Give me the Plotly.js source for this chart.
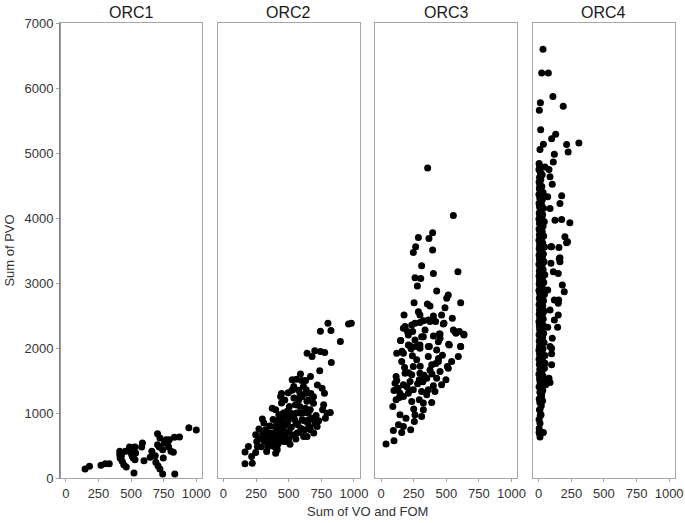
<!DOCTYPE html>
<html>
<head>
<meta charset="utf-8">
<script src="https://cdn.plot.ly/plotly-3.0.1.min.js"></script>
<style>html,body{margin:0;padding:0;background:#fff;}#chart{width:685px;height:523px;}</style>
</head>
<body>
<div id="chart"></div>
<script>
// Panel names
const panels = ["ORC1", "ORC2", "ORC3", "ORC4"];
const xTicks = [0, 250, 500, 750, 1000];
const yTicks = [0, 1000, 2000, 3000, 4000, 5000, 6000, 7000];

// ORC1
const orc1x = [147,181,269,302,333,413,416,413,426,432,444,463,457,488,496,509,522,530,517,504,522,535,530,587,581,599,646,659,685,690,706,721,703,703,716,721,742,747,742,755,768,780,788,793,806,824,832,871,835,943,1000];
const orc1y = [138,179,195,220,220,359,308,410,344,256,205,169,410,477,395,333,472,477,308,374,77,385,282,538,477,267,318,410,344,241,190,138,682,513,477,615,436,308,62,538,590,538,477,590,410,395,626,631,62,774,740];

// ORC2
const orc2x = [165,221,165,191,216,247,260,247,272,298,310,323,331,336,349,361,374,387,394,412,425,430,438,445,450,463,471,481,491,496,501,511,527,539,552,557,565,578,588,593,603,613,623,628,634,641,654,667,641,679,700,667,692,705,718,738,743,756,774,768,781,794,819,743,776,801,824,827,896,959,980,
  280,300,315,340,355,370,380,395,405,415,420,440,455,460,475,485,500,505,515,520,530,540,545,560,570,575,585,595,600,610,620,630,640,645,650,660,670,680,690,700,710,720,730,760,330,345,365,380,400,410,425,435,445,470,480,490,510,525,535,555,580,600,615,625,650,665,690,255,290,310,400,560,590];
const orc2y = [218,228,399,486,332,394,486,665,752,906,845,742,409,614,537,691,1075,486,793,435,972,742,1254,1152,896,563,640,819,1029,1311,716,921,1510,1408,1126,845,691,1203,1280,998,896,1408,742,1075,1357,640,896,1562,1920,1869,1956,742,691,870,793,1649,1946,1382,1305,1126,921,998,1008,2257,1930,2380,2268,1777,2099,2370,2380,
  600,680,560,480,800,620,560,700,610,880,530,680,760,1000,950,700,600,1100,1000,780,660,1230,900,1000,820,1350,1100,760,1250,1000,880,1500,1180,850,1000,780,1300,920,1150,830,960,1430,880,1050,700,620,520,900,1050,480,600,820,1300,1200,560,850,520,1350,950,600,700,1500,640,1300,1200,1050,1250,560,480,620,380,1520,1600];

// ORC3
const orc3x = [357,554,395,286,367,265,247,395,311,589,260,304,401,278,426,515,503,253,355,375,610,490,176,286,298,401,464,546,260,324,362,418,482,171,202,242,337,446,554,574,635,150,260,324,401,452,209,268,298,370,439,518,610,
  38,99,94,158,133,171,227,191,255,311,260,324,145,324,388,293,235,115,171,99,145,209,107,120,247,311,362,413,401,464,497,426,350,293,222,171,184,235,298,375,452,515,541,508,247,158,120,171,273,362,439,388,298,222,362,426,523,150,592,610,600,635,566,184,235,298,375,452,477,209,311,
  90,140,200,330,280,180,240,420,350,130,210,470,300,160,390,250,115,440,230,320];
const orc3y = [4770,4038,3772,3700,3685,3557,3470,3506,3265,3173,3081,3071,3148,2954,2877,2815,2764,2697,2677,2646,2697,2620,2508,2559,2508,2493,2508,2457,2380,2421,2431,2406,2380,2303,2252,2252,2278,2216,2278,2226,2211,2114,2124,2175,2185,2149,2047,2022,2047,2022,2098,2057,2022,
  522,573,732,701,819,793,742,921,870,947,972,1050,972,1152,1162,1203,1178,1203,1254,1346,1305,1305,1459,1500,1357,1331,1357,1331,1418,1433,1510,1536,1536,1510,1485,1433,1612,1587,1612,1663,1638,1689,1792,1715,1715,1792,1920,1920,1818,1869,1792,1741,1997,2033,2022,1971,2048,2114,1869,2022,2252,2201,2252,2329,2355,2391,2406,2216,2370,2201,2175,
  1100,1240,1400,1580,1450,1700,1880,1760,1280,1380,1620,1890,1720,1950,1600,1060,1560,1840,1990,1480];

// ORC4
const orc4x = [33,23,74,109,13,188,5,15,130,99,308,214,36,10,226,120,3,112,48,79,18,87,104,10,69,176,163,87,125,176,239,201,221,99,155,163,
  214,94,158,163,94,150,181,196,112,69,120,153,150,87,150,120,145,69,104,87,99,99,99,48,79,87,54,23,10,10,18,10,3,36,10,
  4,22,9,31,14,3,27,11,40,6,19,33,2,15,26,8,44,12,21,5,36,17,3,28,10,48,7,23,14,2,33,18,6,25,11,41,4,20,9,30,15,3,38,12,24,7,17,46,5,29,10,2,21,35,8,16,27,4,13,42,6,23,11,31,3,19,9,37,14,5,26,12,44,7,20,2,32,16,8,24,4,39,13,6,28,18,3,47,10,22,5,34,14,8,26,2,17,41,11,6,29,20,3,36,9,15,25,4,45,12,7,31,18,2,23,10,38,5,14,27,8,3,20,33,11,6,43,16,2,25,9,30,4,18,12,37,6,22,3,14,28,8,19,2,34,11,5,24,9,3,16,6,27,12,2,8,
  3,12,6,20,9,30,14,4,8];
const orc4y = [6595,6230,6230,5871,5774,5718,5656,5359,5288,5221,5155,5129,5134,5052,5017,4981,4837,4863,4786,4745,4684,4633,4520,4479,4326,4341,4223,4146,3967,3977,3926,3711,3634,3557,3547,3388,
  3619,3557,3378,3327,3302,3148,2969,2867,3174,2893,2739,2739,2688,2586,2509,2432,2319,2319,2150,2022,1997,1910,1741,1766,1536,1469,1433,1305,1228,1049,972,844,701,701,629,
  1215,1262,1318,1349,1377,1402,1441,1468,1495,1523,1547,1571,1598,1622,1650,1668,1687,1712,1735,1751,1779,1803,1826,1840,1862,1885,1903,1921,1948,1966,1983,2005,2027,2044,2061,2083,2106,2122,2139,2165,2187,2205,2226,2244,2262,2285,2303,2326,2344,2367,2385,2404,2423,2447,2466,2484,2503,2521,2545,2566,2583,2604,2622,2645,2667,2686,2704,2727,2745,2766,2788,2806,2824,2846,2867,2885,2908,2926,2947,2969,2988,3006,3025,3047,3066,3087,3106,3126,3148,3167,3186,3205,3228,3247,3266,3288,3306,3327,3348,3367,3386,3407,3428,3448,3468,3489,3510,3531,3552,3573,3594,3615,3636,3658,3679,3700,3722,3743,3766,3787,3808,3830,3852,3873,3897,3919,3941,3962,3985,4007,4030,4054,4078,4101,4126,4150,4175,4201,4226,4252,4279,4306,4334,4362,4391,4421,4452,4484,4517,4552,4588,4625,4664,4705,4748,4795,
  900,960,1050,1110,1160,1190,1240,760,680];

const xs = [orc1x, orc2x, orc3x, orc4x];
const ys = [orc1y, orc2y, orc3y, orc4y];

const gap = 0.0251;
const w = (1 - 3 * gap) / 4;
const borderColor = '#a6a6a6';
const textColor = '#333333';
const font = 'Liberation Sans, Arial, sans-serif';

const data = [];
const layout = {
  width: 685, height: 523,
  margin: {l: 60, r: 10, t: 23, b: 45, pad: 0},
  paper_bgcolor: '#ffffff', plot_bgcolor: '#ffffff',
  showlegend: false,
  font: {family: font, color: textColor, size: 13},
  annotations: [], shapes: []
};

panels.forEach((name, i) => {
  const sfx = i === 0 ? '' : String(i + 1);
  data.push({
    type: 'scatter', mode: 'markers',
    x: xs[i], y: ys[i],
    xaxis: 'x' + sfx, yaxis: 'y' + sfx,
    marker: {color: '#000000', size: 7, line: {width: 0}},
    cliponaxis: true,
    hoverinfo: 'x+y'
  });
  const d0 = i * (w + gap), d1 = d0 + w;
  layout['xaxis' + sfx] = {
    domain: [d0, Math.min(d1, 1)], range: [-45, 1045],
    tickvals: xTicks, ticktext: xTicks.map(String),
    ticks: 'outside', ticklen: 3, tickwidth: 1, tickcolor: borderColor,
    showline: true, mirror: true, linecolor: borderColor, linewidth: 1,
    showgrid: false, zeroline: false,
    tickfont: {family: font, size: 13, color: textColor},
    anchor: 'y' + sfx
  };
  layout['yaxis' + sfx] = {
    domain: [0, 1], range: [0, 7000],
    tickvals: yTicks, ticktext: yTicks.map(String),
    ticks: i === 0 ? 'outside' : '', ticklen: 3, tickwidth: 1, tickcolor: borderColor,
    showticklabels: i === 0,
    showline: true, mirror: true, linecolor: borderColor, linewidth: 1,
    showgrid: false, zeroline: false,
    tickfont: {family: font, size: 13, color: textColor},
    anchor: 'x' + sfx
  };
  layout.annotations.push({
    text: name, xref: 'paper', yref: 'paper',
    x: (d0 + d1) / 2, y: 1, xanchor: 'center', yanchor: 'bottom', yshift: 0,
    showarrow: false, font: {family: font, size: 16, color: '#1a1a1a'}
  });
});

layout.yaxis.title = {text: 'Sum of PVO', font: {family: font, size: 13, color: textColor}, standoff: 6};
layout.annotations.push({
  text: 'Sum of VO and FOM', xref: 'paper', yref: 'paper',
  x: 0.5, y: 0, xanchor: 'center', yanchor: 'top', yshift: -24,
  showarrow: false, font: {family: font, size: 13, color: textColor}
});
layout.shapes.push({
  type: 'line', xref: 'paper', yref: 'paper', x0: 0, x1: 0, y0: 0, y1: 1,
  line: {color: '#7a7a7a', width: 1.5}
});

Plotly.newPlot('chart', data, layout, {staticPlot: true, displayModeBar: false});
</script>
</body>
</html>
